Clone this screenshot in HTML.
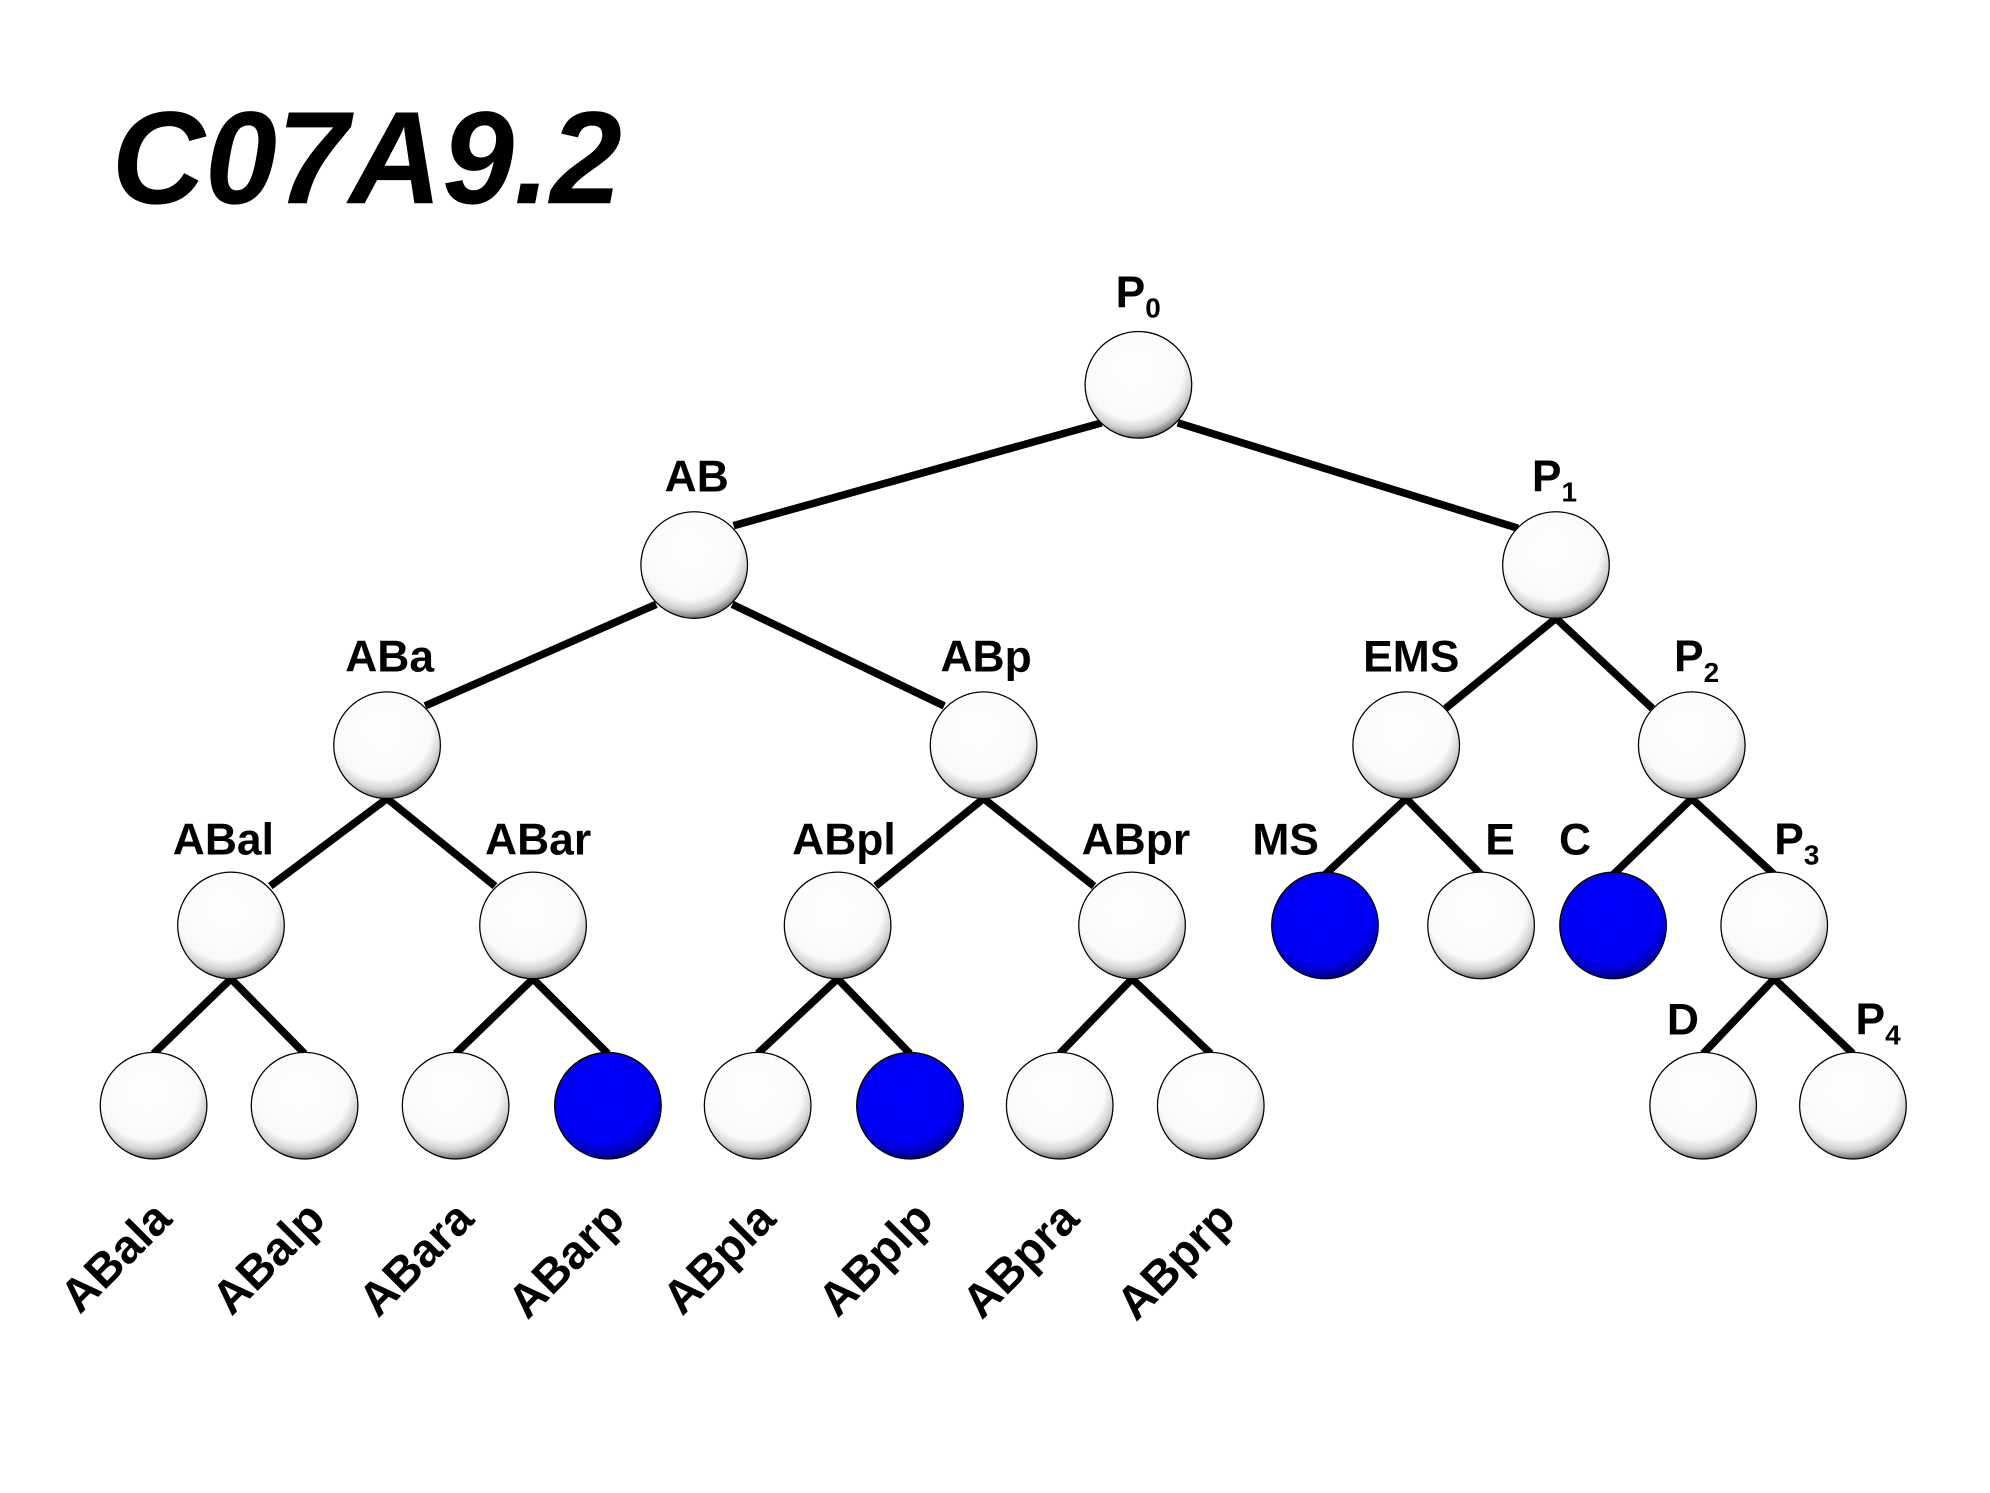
<!DOCTYPE html>
<html><head><meta charset="utf-8"><style>html,body{margin:0;padding:0;background:#fff}svg{display:block}</style></head>
<body>
<svg width="1990" height="1493" viewBox="0 0 1568 1176" xmlns="http://www.w3.org/2000/svg" font-family="Liberation Sans, Arial, sans-serif" font-weight="bold">
<defs>
<radialGradient id="w" cx="0.45" cy="0.35" r="0.65">
<stop offset="0" stop-color="#ffffff"/><stop offset="0.72" stop-color="#fafafa"/><stop offset="0.88" stop-color="#d0d0d0"/><stop offset="1" stop-color="#707070"/></radialGradient>
<radialGradient id="b" cx="0.45" cy="0.35" r="0.65">
<stop offset="0" stop-color="#0000ff"/><stop offset="0.75" stop-color="#0000f4"/><stop offset="0.9" stop-color="#0000c0"/><stop offset="1" stop-color="#000070"/></radialGradient>
</defs>
<rect width="1568" height="1176" fill="#fff"/>
<text x="88" y="160" font-size="104" font-style="italic" textLength="402" lengthAdjust="spacingAndGlyphs">C07A9.2</text>
<g stroke="#000" stroke-width="6" stroke-linecap="butt">
<line x1="868" y1="333" x2="578" y2="414"/>
<line x1="928" y1="333" x2="1196" y2="416"/>
<line x1="517" y1="476" x2="335" y2="556"/>
<line x1="577" y1="476" x2="744" y2="556"/>
<line x1="1226" y1="487" x2="1139" y2="558"/>
<line x1="1226" y1="487" x2="1302" y2="558"/>
<line x1="305" y1="629" x2="213" y2="698"/>
<line x1="305" y1="629" x2="390" y2="698"/>
<line x1="775" y1="629" x2="690" y2="698"/>
<line x1="775" y1="629" x2="862" y2="698"/>
<line x1="1108" y1="629" x2="1044" y2="689"/>
<line x1="1108" y1="629" x2="1167" y2="689"/>
<line x1="1333" y1="629" x2="1271" y2="689"/>
<line x1="1333" y1="629" x2="1398" y2="689"/>
<line x1="182" y1="771" x2="121" y2="830"/>
<line x1="182" y1="771" x2="240" y2="830"/>
<line x1="420" y1="771" x2="359" y2="830"/>
<line x1="420" y1="771" x2="479" y2="830"/>
<line x1="660" y1="771" x2="597" y2="830"/>
<line x1="660" y1="771" x2="717" y2="830"/>
<line x1="892" y1="771" x2="835" y2="830"/>
<line x1="892" y1="771" x2="954" y2="830"/>
<line x1="1398" y1="771" x2="1342" y2="830"/>
<line x1="1398" y1="771" x2="1460" y2="830"/>
</g>
<g stroke="#000" stroke-width="1">
<circle cx="897" cy="303" r="42" fill="url(#w)"/>
<circle cx="547" cy="445" r="42" fill="url(#w)"/>
<circle cx="1226" cy="445" r="42" fill="url(#w)"/>
<circle cx="305" cy="587" r="42" fill="url(#w)"/>
<circle cx="775" cy="587" r="42" fill="url(#w)"/>
<circle cx="1108" cy="587" r="42" fill="url(#w)"/>
<circle cx="1333" cy="587" r="42" fill="url(#w)"/>
<circle cx="182" cy="729" r="42" fill="url(#w)"/>
<circle cx="420" cy="729" r="42" fill="url(#w)"/>
<circle cx="660" cy="729" r="42" fill="url(#w)"/>
<circle cx="892" cy="729" r="42" fill="url(#w)"/>
<circle cx="1044" cy="729" r="42" fill="url(#b)"/>
<circle cx="1167" cy="729" r="42" fill="url(#w)"/>
<circle cx="1271" cy="729" r="42" fill="url(#b)"/>
<circle cx="1398" cy="729" r="42" fill="url(#w)"/>
<circle cx="121" cy="871" r="42" fill="url(#w)"/>
<circle cx="240" cy="871" r="42" fill="url(#w)"/>
<circle cx="359" cy="871" r="42" fill="url(#w)"/>
<circle cx="479" cy="871" r="42" fill="url(#b)"/>
<circle cx="597" cy="871" r="42" fill="url(#w)"/>
<circle cx="717" cy="871" r="42" fill="url(#b)"/>
<circle cx="835" cy="871" r="42" fill="url(#w)"/>
<circle cx="954" cy="871" r="42" fill="url(#w)"/>
<circle cx="1342" cy="871" r="42" fill="url(#w)"/>
<circle cx="1460" cy="871" r="42" fill="url(#w)"/>
</g>
<g font-size="35" fill="#000">
<text x="879" y="242">P<tspan font-size="22" dy="8">0</tspan></text>
<text x="549" y="387" text-anchor="middle">AB</text>
<text x="1207" y="387">P<tspan font-size="22" dy="8">1</tspan></text>
<text x="307" y="529" text-anchor="middle">ABa</text>
<text x="777" y="529" text-anchor="middle">ABp</text>
<text x="1112" y="529" text-anchor="middle">EMS</text>
<text x="1319" y="529">P<tspan font-size="22" dy="8">2</tspan></text>
<text x="176" y="673" text-anchor="middle">ABal</text>
<text x="424" y="673" text-anchor="middle">ABar</text>
<text x="665" y="673" text-anchor="middle">ABpl</text>
<text x="895" y="673" text-anchor="middle">ABpr</text>
<text x="1013" y="673" text-anchor="middle">MS</text>
<text x="1182" y="673" text-anchor="middle">E</text>
<text x="1241" y="673" text-anchor="middle">C</text>
<text x="1398" y="673">P<tspan font-size="22" dy="8">3</tspan></text>
<text x="1326" y="815" text-anchor="middle">D</text>
<text x="1462" y="815">P<tspan font-size="22" dy="8">4</tspan></text>
</g>
<g font-size="37" fill="#000" text-anchor="end">
<text transform="translate(137,962) rotate(-45)">ABala</text>
<text transform="translate(258,962) rotate(-45)">ABalp</text>
<text transform="translate(375,962) rotate(-45)">ABara</text>
<text transform="translate(494,962) rotate(-45)">ABarp</text>
<text transform="translate(613,962) rotate(-45)">ABpla</text>
<text transform="translate(737,962) rotate(-45)">ABplp</text>
<text transform="translate(852,962) rotate(-45)">ABpra</text>
<text transform="translate(975,962) rotate(-45)">ABprp</text>
</g>
</svg>
</body></html>
